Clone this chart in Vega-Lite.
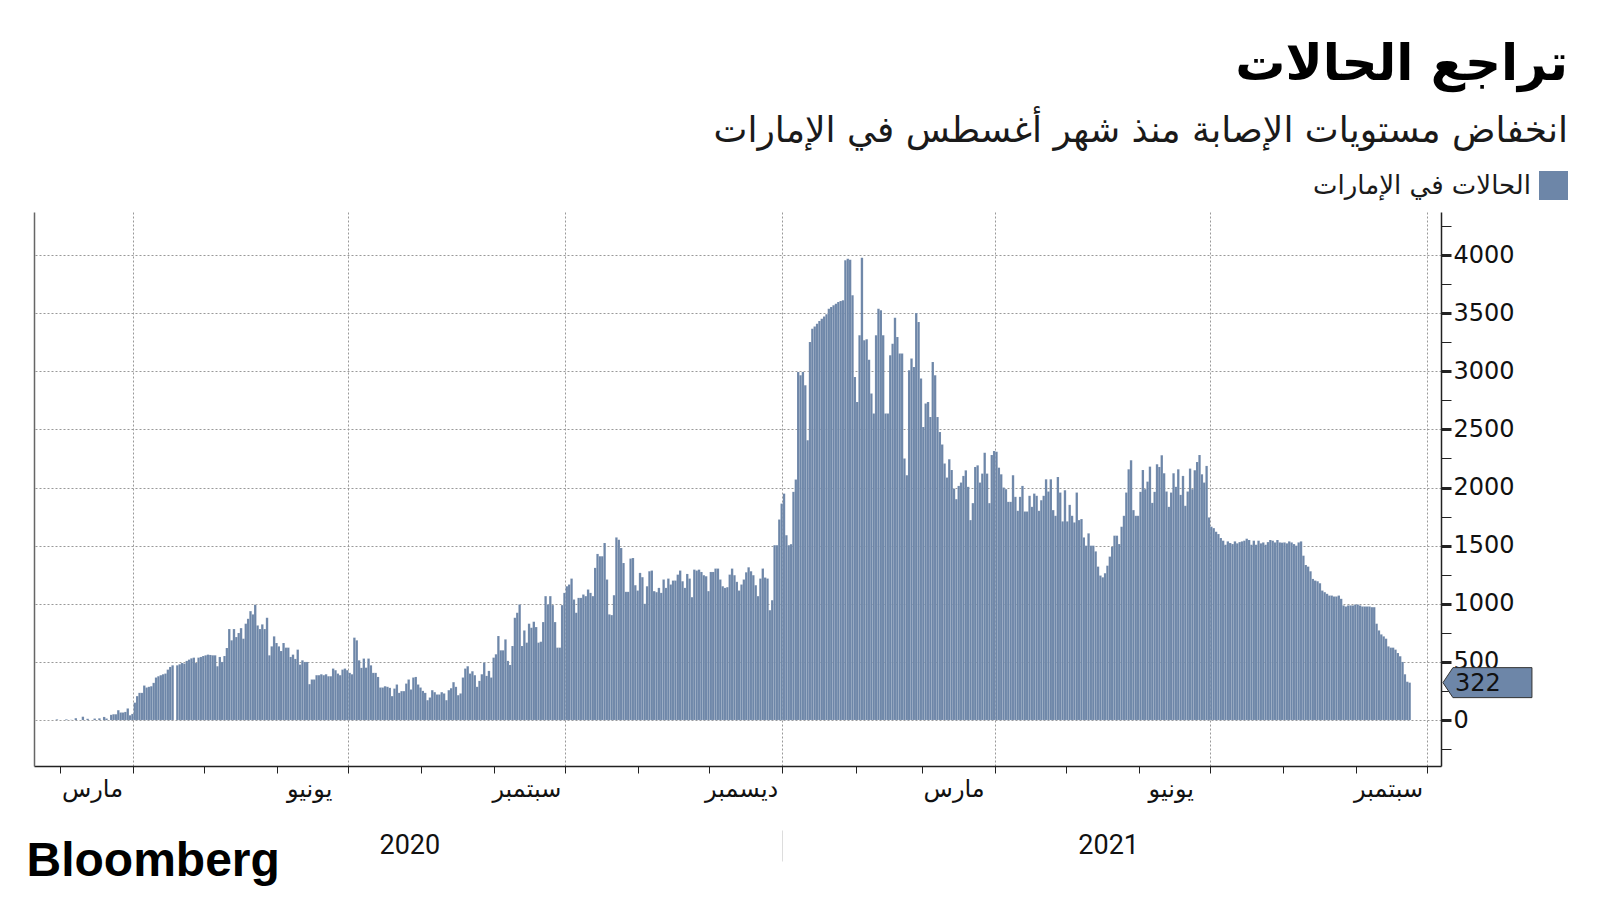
{
  "$schema": "https://vega.github.io/schema/vega-lite/v6.json",
  "width": 1407,
  "height": 554,
  "autosize": {"type": "none"},
  "padding": {"left": 34, "top": 212, "right": 159, "bottom": 134},
  "background": "white",
  "config": {"view": {"stroke": null}, "font": "DejaVu Sans"},
  "title": {
    "text": "تراجع الحالات",
    "subtitle": "انخفاض مستويات الإصابة منذ شهر أغسطس في الإمارات",
    "anchor": "end",
    "frame": "group",
    "orient": "top",
    "dx": 127,
    "offset": 22,
    "font": "DejaVu Sans",
    "fontSize": 50,
    "fontWeight": "bold",
    "color": "black",
    "subtitleFont": "DejaVu Sans",
    "subtitleFontSize": 36,
    "subtitleColor": "#1a1a1a",
    "subtitlePadding": 24
  },
  "datasets": {
    "cases": [
      {"d":"2020-02-19","v":0},{"d":"2020-02-20","v":0},{"d":"2020-02-21","v":0},{"d":"2020-02-22","v":0},{"d":"2020-02-23","v":0},{"d":"2020-02-24","v":0},{"d":"2020-02-25","v":0},{"d":"2020-02-26","v":0},{"d":"2020-02-27","v":0},{"d":"2020-02-28","v":6},{"d":"2020-02-29","v":0},
      {"d":"2020-03-01","v":0},{"d":"2020-03-02","v":0},{"d":"2020-03-03","v":6},{"d":"2020-03-04","v":0},{"d":"2020-03-05","v":2},{"d":"2020-03-06","v":0},{"d":"2020-03-07","v":16},{"d":"2020-03-08","v":0},{"d":"2020-03-09","v":0},{"d":"2020-03-10","v":29},{"d":"2020-03-11","v":0},{"d":"2020-03-12","v":11},{"d":"2020-03-13","v":0},{"d":"2020-03-14","v":0},{"d":"2020-03-15","v":13},{"d":"2020-03-16","v":0},{"d":"2020-03-17","v":15},{"d":"2020-03-18","v":0},{"d":"2020-03-19","v":27},{"d":"2020-03-20","v":13},{"d":"2020-03-21","v":0},{"d":"2020-03-22","v":45},{"d":"2020-03-23","v":50},{"d":"2020-03-24","v":50},{"d":"2020-03-25","v":85},{"d":"2020-03-26","v":65},{"d":"2020-03-27","v":65},{"d":"2020-03-28","v":70},{"d":"2020-03-29","v":100},{"d":"2020-03-30","v":41},{"d":"2020-03-31","v":53},
      {"d":"2020-04-01","v":150},{"d":"2020-04-02","v":206},{"d":"2020-04-03","v":234},{"d":"2020-04-04","v":234},{"d":"2020-04-05","v":297},{"d":"2020-04-06","v":280},{"d":"2020-04-07","v":286},{"d":"2020-04-08","v":291},{"d":"2020-04-09","v":320},{"d":"2020-04-10","v":366},{"d":"2020-04-11","v":377},{"d":"2020-04-12","v":386},{"d":"2020-04-13","v":394},{"d":"2020-04-14","v":400},{"d":"2020-04-15","v":434},{"d":"2020-04-16","v":457},{"d":"2020-04-17","v":471},{"d":"2020-04-18","v":0},{"d":"2020-04-19","v":471},{"d":"2020-04-20","v":480},{"d":"2020-04-21","v":491},{"d":"2020-04-22","v":486},{"d":"2020-04-23","v":509},{"d":"2020-04-24","v":520},{"d":"2020-04-25","v":531},{"d":"2020-04-26","v":537},{"d":"2020-04-27","v":491},{"d":"2020-04-28","v":537},{"d":"2020-04-29","v":543},{"d":"2020-04-30","v":551},
      {"d":"2020-05-01","v":557},{"d":"2020-05-02","v":563},{"d":"2020-05-03","v":560},{"d":"2020-05-04","v":557},{"d":"2020-05-05","v":557},{"d":"2020-05-06","v":463},{"d":"2020-05-07","v":543},{"d":"2020-05-08","v":500},{"d":"2020-05-09","v":551},{"d":"2020-05-10","v":620},{"d":"2020-05-11","v":783},{"d":"2020-05-12","v":686},{"d":"2020-05-13","v":783},{"d":"2020-05-14","v":714},{"d":"2020-05-15","v":749},{"d":"2020-05-16","v":791},{"d":"2020-05-17","v":700},{"d":"2020-05-18","v":829},{"d":"2020-05-19","v":871},{"d":"2020-05-20","v":937},{"d":"2020-05-21","v":909},{"d":"2020-05-22","v":991},{"d":"2020-05-23","v":814},{"d":"2020-05-24","v":783},{"d":"2020-05-25","v":823},{"d":"2020-05-26","v":783},{"d":"2020-05-27","v":880},{"d":"2020-05-28","v":557},{"d":"2020-05-29","v":634},{"d":"2020-05-30","v":720},{"d":"2020-05-31","v":663},
      {"d":"2020-06-01","v":634},{"d":"2020-06-02","v":594},{"d":"2020-06-03","v":663},{"d":"2020-06-04","v":623},{"d":"2020-06-05","v":623},{"d":"2020-06-06","v":543},{"d":"2020-06-07","v":563},{"d":"2020-06-08","v":526},{"d":"2020-06-09","v":606},{"d":"2020-06-10","v":477},{"d":"2020-06-11","v":514},{"d":"2020-06-12","v":500},{"d":"2020-06-13","v":500},{"d":"2020-06-14","v":309},{"d":"2020-06-15","v":349},{"d":"2020-06-16","v":349},{"d":"2020-06-17","v":386},{"d":"2020-06-18","v":386},{"d":"2020-06-19","v":394},{"d":"2020-06-20","v":386},{"d":"2020-06-21","v":394},{"d":"2020-06-22","v":377},{"d":"2020-06-23","v":377},{"d":"2020-06-24","v":443},{"d":"2020-06-25","v":429},{"d":"2020-06-26","v":400},{"d":"2020-06-27","v":386},{"d":"2020-06-28","v":434},{"d":"2020-06-29","v":443},{"d":"2020-06-30","v":429},
      {"d":"2020-07-01","v":406},{"d":"2020-07-02","v":394},{"d":"2020-07-03","v":709},{"d":"2020-07-04","v":686},{"d":"2020-07-05","v":514},{"d":"2020-07-06","v":449},{"d":"2020-07-07","v":529},{"d":"2020-07-08","v":451},{"d":"2020-07-09","v":529},{"d":"2020-07-10","v":471},{"d":"2020-07-11","v":406},{"d":"2020-07-12","v":406},{"d":"2020-07-13","v":371},{"d":"2020-07-14","v":280},{"d":"2020-07-15","v":280},{"d":"2020-07-16","v":291},{"d":"2020-07-17","v":286},{"d":"2020-07-18","v":277},{"d":"2020-07-19","v":206},{"d":"2020-07-20","v":271},{"d":"2020-07-21","v":306},{"d":"2020-07-22","v":234},{"d":"2020-07-23","v":249},{"d":"2020-07-24","v":249},{"d":"2020-07-25","v":314},{"d":"2020-07-26","v":349},{"d":"2020-07-27","v":263},{"d":"2020-07-28","v":366},{"d":"2020-07-29","v":371},{"d":"2020-07-30","v":306},{"d":"2020-07-31","v":280},
      {"d":"2020-08-01","v":251},{"d":"2020-08-02","v":234},{"d":"2020-08-03","v":171},{"d":"2020-08-04","v":194},{"d":"2020-08-05","v":257},{"d":"2020-08-06","v":240},{"d":"2020-08-07","v":220},{"d":"2020-08-08","v":220},{"d":"2020-08-09","v":240},{"d":"2020-08-10","v":229},{"d":"2020-08-11","v":171},{"d":"2020-08-12","v":257},{"d":"2020-08-13","v":274},{"d":"2020-08-14","v":326},{"d":"2020-08-15","v":286},{"d":"2020-08-16","v":214},{"d":"2020-08-17","v":229},{"d":"2020-08-18","v":366},{"d":"2020-08-19","v":443},{"d":"2020-08-20","v":463},{"d":"2020-08-21","v":400},{"d":"2020-08-22","v":420},{"d":"2020-08-23","v":386},{"d":"2020-08-24","v":286},{"d":"2020-08-25","v":337},{"d":"2020-08-26","v":394},{"d":"2020-08-27","v":494},{"d":"2020-08-28","v":380},{"d":"2020-08-29","v":423},{"d":"2020-08-30","v":366},{"d":"2020-08-31","v":537},
      {"d":"2020-09-01","v":566},{"d":"2020-09-02","v":723},{"d":"2020-09-03","v":600},{"d":"2020-09-04","v":600},{"d":"2020-09-05","v":694},{"d":"2020-09-06","v":509},{"d":"2020-09-07","v":474},{"d":"2020-09-08","v":637},{"d":"2020-09-09","v":880},{"d":"2020-09-10","v":923},{"d":"2020-09-11","v":994},{"d":"2020-09-12","v":637},{"d":"2020-09-13","v":771},{"d":"2020-09-14","v":666},{"d":"2020-09-15","v":829},{"d":"2020-09-16","v":794},{"d":"2020-09-17","v":846},{"d":"2020-09-18","v":800},{"d":"2020-09-19","v":666},{"d":"2020-09-20","v":674},{"d":"2020-09-21","v":843},{"d":"2020-09-22","v":1066},{"d":"2020-09-23","v":994},{"d":"2020-09-24","v":1066},{"d":"2020-09-25","v":989},{"d":"2020-09-26","v":843},{"d":"2020-09-27","v":623},{"d":"2020-09-28","v":623},{"d":"2020-09-29","v":989},{"d":"2020-09-30","v":1094},
      {"d":"2020-10-01","v":1151},{"d":"2020-10-02","v":1166},{"d":"2020-10-03","v":1217},{"d":"2020-10-04","v":1037},{"d":"2020-10-05","v":923},{"d":"2020-10-06","v":1051},{"d":"2020-10-07","v":1051},{"d":"2020-10-08","v":1080},{"d":"2020-10-09","v":1066},{"d":"2020-10-10","v":1123},{"d":"2020-10-11","v":1094},{"d":"2020-10-12","v":1066},{"d":"2020-10-13","v":1309},{"d":"2020-10-14","v":1429},{"d":"2020-10-15","v":1409},{"d":"2020-10-16","v":1409},{"d":"2020-10-17","v":1523},{"d":"2020-10-18","v":1209},{"d":"2020-10-19","v":909},{"d":"2020-10-20","v":903},{"d":"2020-10-21","v":1074},{"d":"2020-10-22","v":1571},{"d":"2020-10-23","v":1551},{"d":"2020-10-24","v":1480},{"d":"2020-10-25","v":1351},{"d":"2020-10-26","v":1103},{"d":"2020-10-27","v":1103},{"d":"2020-10-28","v":1389},{"d":"2020-10-29","v":1394},{"d":"2020-10-30","v":1160},{"d":"2020-10-31","v":1114},
      {"d":"2020-11-01","v":1266},{"d":"2020-11-02","v":1229},{"d":"2020-11-03","v":1000},{"d":"2020-11-04","v":1151},{"d":"2020-11-05","v":1280},{"d":"2020-11-06","v":1286},{"d":"2020-11-07","v":1109},{"d":"2020-11-08","v":1100},{"d":"2020-11-09","v":1137},{"d":"2020-11-10","v":1094},{"d":"2020-11-11","v":1209},{"d":"2020-11-12","v":1137},{"d":"2020-11-13","v":1217},{"d":"2020-11-14","v":1166},{"d":"2020-11-15","v":1200},{"d":"2020-11-16","v":1200},{"d":"2020-11-17","v":1251},{"d":"2020-11-18","v":1286},{"d":"2020-11-19","v":1194},{"d":"2020-11-20","v":1137},{"d":"2020-11-21","v":1257},{"d":"2020-11-22","v":1217},{"d":"2020-11-23","v":1057},{"d":"2020-11-24","v":1294},{"d":"2020-11-25","v":1286},{"d":"2020-11-26","v":1294},{"d":"2020-11-27","v":1274},{"d":"2020-11-28","v":1246},{"d":"2020-11-29","v":1237},{"d":"2020-11-30","v":1109},
      {"d":"2020-12-01","v":1274},{"d":"2020-12-02","v":1274},{"d":"2020-12-03","v":1303},{"d":"2020-12-04","v":1303},{"d":"2020-12-05","v":1209},{"d":"2020-12-06","v":1151},{"d":"2020-12-07","v":1137},{"d":"2020-12-08","v":1143},{"d":"2020-12-09","v":1251},{"d":"2020-12-10","v":1303},{"d":"2020-12-11","v":1246},{"d":"2020-12-12","v":1189},{"d":"2020-12-13","v":1114},{"d":"2020-12-14","v":1166},{"d":"2020-12-15","v":1209},{"d":"2020-12-16","v":1271},{"d":"2020-12-17","v":1314},{"d":"2020-12-18","v":1280},{"d":"2020-12-19","v":1246},{"d":"2020-12-20","v":1160},{"d":"2020-12-21","v":1066},{"d":"2020-12-22","v":1217},{"d":"2020-12-23","v":1303},{"d":"2020-12-24","v":1226},{"d":"2020-12-25","v":1217},{"d":"2020-12-26","v":945},{"d":"2020-12-27","v":1031},{"d":"2020-12-28","v":1504},{"d":"2020-12-29","v":1504},{"d":"2020-12-30","v":1725},{"d":"2020-12-31","v":1862},
      {"d":"2021-01-01","v":1948},{"d":"2021-01-02","v":1590},{"d":"2021-01-03","v":1504},{"d":"2021-01-04","v":1513},{"d":"2021-01-05","v":1963},{"d":"2021-01-06","v":2069},{"d":"2021-01-07","v":2994},{"d":"2021-01-08","v":2965},{"d":"2021-01-09","v":2994},{"d":"2021-01-10","v":2879},{"d":"2021-01-11","v":2407},{"d":"2021-01-12","v":3252},{"d":"2021-01-13","v":3366},{"d":"2021-01-14","v":3386},{"d":"2021-01-15","v":3409},{"d":"2021-01-16","v":3432},{"d":"2021-01-17","v":3452},{"d":"2021-01-18","v":3472},{"d":"2021-01-19","v":3490},{"d":"2021-01-20","v":3538},{"d":"2021-01-21","v":3553},{"d":"2021-01-22","v":3567},{"d":"2021-01-23","v":3581},{"d":"2021-01-24","v":3596},{"d":"2021-01-25","v":3604},{"d":"2021-01-26","v":3610},{"d":"2021-01-27","v":3954},{"d":"2021-01-28","v":3968},{"d":"2021-01-29","v":3959},{"d":"2021-01-30","v":3653},{"d":"2021-01-31","v":2951},
      {"d":"2021-02-01","v":2736},{"d":"2021-02-02","v":3309},{"d":"2021-02-03","v":3977},{"d":"2021-02-04","v":3266},{"d":"2021-02-05","v":3275},{"d":"2021-02-06","v":3100},{"d":"2021-02-07","v":2808},{"d":"2021-02-08","v":2636},{"d":"2021-02-09","v":3309},{"d":"2021-02-10","v":3538},{"d":"2021-02-11","v":3524},{"d":"2021-02-12","v":3309},{"d":"2021-02-13","v":2636},{"d":"2021-02-14","v":2636},{"d":"2021-02-15","v":3137},{"d":"2021-02-16","v":3237},{"d":"2021-02-17","v":3461},{"d":"2021-02-18","v":3295},{"d":"2021-02-19","v":3152},{"d":"2021-02-20","v":3152},{"d":"2021-02-21","v":2249},{"d":"2021-02-22","v":2106},{"d":"2021-02-23","v":3008},{"d":"2021-02-24","v":3109},{"d":"2021-02-25","v":3037},{"d":"2021-02-26","v":3501},{"d":"2021-02-27","v":3424},{"d":"2021-02-28","v":2937},
      {"d":"2021-03-01","v":2521},{"d":"2021-03-02","v":2722},{"d":"2021-03-03","v":2736},{"d":"2021-03-04","v":2607},{"d":"2021-03-05","v":3080},{"d":"2021-03-06","v":2965},{"d":"2021-03-07","v":2606},{"d":"2021-03-08","v":2477},{"d":"2021-03-09","v":2371},{"d":"2021-03-10","v":2206},{"d":"2021-03-11","v":2086},{"d":"2021-03-12","v":2243},{"d":"2021-03-13","v":2151},{"d":"2021-03-14","v":1991},{"d":"2021-03-15","v":1900},{"d":"2021-03-16","v":2014},{"d":"2021-03-17","v":2043},{"d":"2021-03-18","v":2100},{"d":"2021-03-19","v":2148},{"d":"2021-03-20","v":2006},{"d":"2021-03-21","v":1720},{"d":"2021-03-22","v":1866},{"d":"2021-03-23","v":2177},{"d":"2021-03-24","v":2191},{"d":"2021-03-25","v":2043},{"d":"2021-03-26","v":2120},{"d":"2021-03-27","v":2300},{"d":"2021-03-28","v":2120},{"d":"2021-03-29","v":1866},{"d":"2021-03-30","v":2280},{"d":"2021-03-31","v":2314},
      {"d":"2021-04-01","v":2308},{"d":"2021-04-02","v":2171},{"d":"2021-04-03","v":2114},{"d":"2021-04-04","v":2000},{"d":"2021-04-05","v":1986},{"d":"2021-04-06","v":1877},{"d":"2021-04-07","v":1877},{"d":"2021-04-08","v":2106},{"d":"2021-04-09","v":1920},{"d":"2021-04-10","v":1800},{"d":"2021-04-11","v":1920},{"d":"2021-04-12","v":2014},{"d":"2021-04-13","v":1794},{"d":"2021-04-14","v":1794},{"d":"2021-04-15","v":1929},{"d":"2021-04-16","v":1834},{"d":"2021-04-17","v":1948},{"d":"2021-04-18","v":1929},{"d":"2021-04-19","v":1800},{"d":"2021-04-20","v":1891},{"d":"2021-04-21","v":1929},{"d":"2021-04-22","v":2071},{"d":"2021-04-23","v":1966},{"d":"2021-04-24","v":2071},{"d":"2021-04-25","v":1806},{"d":"2021-04-26","v":1757},{"d":"2021-04-27","v":2091},{"d":"2021-04-28","v":1957},{"d":"2021-04-29","v":1709},{"d":"2021-04-30","v":1977},
      {"d":"2021-05-01","v":1709},{"d":"2021-05-02","v":1851},{"d":"2021-05-03","v":1757},{"d":"2021-05-04","v":1700},{"d":"2021-05-05","v":1957},{"d":"2021-05-06","v":1720},{"d":"2021-05-07","v":1729},{"d":"2021-05-08","v":1571},{"d":"2021-05-09","v":1500},{"d":"2021-05-10","v":1606},{"d":"2021-05-11","v":1500},{"d":"2021-05-12","v":1500},{"d":"2021-05-13","v":1451},{"d":"2021-05-14","v":1320},{"d":"2021-05-15","v":1243},{"d":"2021-05-16","v":1228},{"d":"2021-05-17","v":1263},{"d":"2021-05-18","v":1328},{"d":"2021-05-19","v":1406},{"d":"2021-05-20","v":1491},{"d":"2021-05-21","v":1586},{"d":"2021-05-22","v":1586},{"d":"2021-05-23","v":1514},{"d":"2021-05-24","v":1663},{"d":"2021-05-25","v":1757},{"d":"2021-05-26","v":1957},{"d":"2021-05-27","v":2157},{"d":"2021-05-28","v":2234},{"d":"2021-05-29","v":1806},{"d":"2021-05-30","v":1757},{"d":"2021-05-31","v":1757},
      {"d":"2021-06-01","v":1963},{"d":"2021-06-02","v":2151},{"d":"2021-06-03","v":1986},{"d":"2021-06-04","v":2051},{"d":"2021-06-05","v":2180},{"d":"2021-06-06","v":1868},{"d":"2021-06-07","v":1963},{"d":"2021-06-08","v":2200},{"d":"2021-06-09","v":2177},{"d":"2021-06-10","v":2277},{"d":"2021-06-11","v":2123},{"d":"2021-06-12","v":1966},{"d":"2021-06-13","v":1834},{"d":"2021-06-14","v":1957},{"d":"2021-06-15","v":2123},{"d":"2021-06-16","v":2006},{"d":"2021-06-17","v":2157},{"d":"2021-06-18","v":1937},{"d":"2021-06-19","v":2100},{"d":"2021-06-20","v":1843},{"d":"2021-06-21","v":1966},{"d":"2021-06-22","v":2163},{"d":"2021-06-23","v":1986},{"d":"2021-06-24","v":2149},{"d":"2021-06-25","v":2220},{"d":"2021-06-26","v":2280},{"d":"2021-06-27","v":2114},{"d":"2021-06-28","v":2043},{"d":"2021-06-29","v":2186},{"d":"2021-06-30","v":1743},
      {"d":"2021-07-01","v":1663},{"d":"2021-07-02","v":1651},{"d":"2021-07-03","v":1620},{"d":"2021-07-04","v":1600},{"d":"2021-07-05","v":1566},{"d":"2021-07-06","v":1543},{"d":"2021-07-07","v":1508},{"d":"2021-07-08","v":1537},{"d":"2021-07-09","v":1523},{"d":"2021-07-10","v":1514},{"d":"2021-07-11","v":1537},{"d":"2021-07-12","v":1520},{"d":"2021-07-13","v":1531},{"d":"2021-07-14","v":1537},{"d":"2021-07-15","v":1543},{"d":"2021-07-16","v":1560},{"d":"2021-07-17","v":1549},{"d":"2021-07-18","v":1508},{"d":"2021-07-19","v":1543},{"d":"2021-07-20","v":1508},{"d":"2021-07-21","v":1543},{"d":"2021-07-22","v":1520},{"d":"2021-07-23","v":1528},{"d":"2021-07-24","v":1508},{"d":"2021-07-25","v":1531},{"d":"2021-07-26","v":1549},{"d":"2021-07-27","v":1543},{"d":"2021-07-28","v":1528},{"d":"2021-07-29","v":1549},{"d":"2021-07-30","v":1528},{"d":"2021-07-31","v":1526},
      {"d":"2021-08-01","v":1528},{"d":"2021-08-02","v":1520},{"d":"2021-08-03","v":1537},{"d":"2021-08-04","v":1528},{"d":"2021-08-05","v":1514},{"d":"2021-08-06","v":1500},{"d":"2021-08-07","v":1528},{"d":"2021-08-08","v":1537},{"d":"2021-08-09","v":1414},{"d":"2021-08-10","v":1334},{"d":"2021-08-11","v":1320},{"d":"2021-08-12","v":1280},{"d":"2021-08-13","v":1214},{"d":"2021-08-14","v":1200},{"d":"2021-08-15","v":1194},{"d":"2021-08-16","v":1177},{"d":"2021-08-17","v":1114},{"d":"2021-08-18","v":1100},{"d":"2021-08-19","v":1086},{"d":"2021-08-20","v":1071},{"d":"2021-08-21","v":1071},{"d":"2021-08-22","v":1063},{"d":"2021-08-23","v":1063},{"d":"2021-08-24","v":1071},{"d":"2021-08-25","v":1043},{"d":"2021-08-26","v":986},{"d":"2021-08-27","v":977},{"d":"2021-08-28","v":986},{"d":"2021-08-29","v":986},{"d":"2021-08-30","v":986},{"d":"2021-08-31","v":994},
      {"d":"2021-09-01","v":994},{"d":"2021-09-02","v":986},{"d":"2021-09-03","v":977},{"d":"2021-09-04","v":977},{"d":"2021-09-05","v":977},{"d":"2021-09-06","v":977},{"d":"2021-09-07","v":971},{"d":"2021-09-08","v":971},{"d":"2021-09-09","v":829},{"d":"2021-09-10","v":771},{"d":"2021-09-11","v":737},{"d":"2021-09-12","v":720},{"d":"2021-09-13","v":700},{"d":"2021-09-14","v":634},{"d":"2021-09-15","v":623},{"d":"2021-09-16","v":623},{"d":"2021-09-17","v":606},{"d":"2021-09-18","v":577},{"d":"2021-09-19","v":549},{"d":"2021-09-20","v":500},{"d":"2021-09-21","v":394},{"d":"2021-09-22","v":330},{"d":"2021-09-23","v":322}
    ]
  },
  "data": {"name": "cases"},
  "layer": [
    {
      "mark": {"type": "bar", "color": "#6D86A8", "binSpacing": 0, "stroke": "#ffffff", "strokeWidth": 0.3, "strokeOpacity": 0.3},
      "encoding": {
        "x": {
          "field": "d", "type": "temporal", "timeUnit": "utcyearmonthdate",
          "scale": {"type": "utc", "domain": [{"year": 2020, "month": 2, "date": 19, "utc": true}, {"year": 2021, "month": 10, "date": 7, "utc": true}]},
          "axis": {
            "title": null,
            "values": [
              {"year": 2020, "month": 3, "date": 1, "utc": true}, {"year": 2020, "month": 4, "date": 1, "utc": true}, {"year": 2020, "month": 5, "date": 1, "utc": true}, {"year": 2020, "month": 6, "date": 1, "utc": true}, {"year": 2020, "month": 7, "date": 1, "utc": true}, {"year": 2020, "month": 8, "date": 1, "utc": true}, {"year": 2020, "month": 9, "date": 1, "utc": true}, {"year": 2020, "month": 10, "date": 1, "utc": true}, {"year": 2020, "month": 11, "date": 1, "utc": true}, {"year": 2020, "month": 12, "date": 1, "utc": true},
              {"year": 2021, "month": 1, "date": 1, "utc": true}, {"year": 2021, "month": 2, "date": 1, "utc": true}, {"year": 2021, "month": 3, "date": 1, "utc": true}, {"year": 2021, "month": 4, "date": 1, "utc": true}, {"year": 2021, "month": 5, "date": 1, "utc": true}, {"year": 2021, "month": 6, "date": 1, "utc": true}, {"year": 2021, "month": 7, "date": 1, "utc": true}, {"year": 2021, "month": 8, "date": 1, "utc": true}, {"year": 2021, "month": 9, "date": 1, "utc": true}, {"year": 2021, "month": 10, "date": 1, "utc": true}
            ],
            "labelExpr": "utcmonth(datum.value) == 2 ? 'مارس' : utcmonth(datum.value) == 5 ? 'يونيو' : utcmonth(datum.value) == 8 ? 'سبتمبر' : utcmonth(datum.value) == 11 ? 'ديسمبر' : ''",
            "labelOffset": 32,
            "labelFont": "DejaVu Sans",
            "labelFontSize": 24,
            "labelColor": "#111",
            "labelPadding": 4,
            "labelOverlap": false,
            "labelBound": false,
            "labelFlush": false,
            "domain": true, "domainColor": "#222", "domainWidth": 1.5,
            "ticks": true, "tickColor": "#222", "tickSize": 7, "tickWidth": 1,
            "grid": true, "gridColor": "#999", "gridDash": [2, 2], "gridWidth": 1,
            "gridOpacity": {"condition": {"test": "utcmonth(datum.value) % 3 === 0", "value": 1}, "value": 0}
          }
        },
        "y": {
          "field": "v", "type": "quantitative",
          "scale": {"domain": [-395, 4370], "nice": false, "zero": false},
          "axis": {
            "orient": "right",
            "title": null,
            "values": [-250, 0, 250, 500, 750, 1000, 1250, 1500, 1750, 2000, 2250, 2500, 2750, 3000, 3250, 3500, 3750, 4000, 4250],
            "labelExpr": "datum.value % 500 === 0 && datum.value >= 0 ? '' + datum.value : ''",
            "labelFont": "DejaVu Sans",
            "labelFontSize": 24,
            "labelColor": "#111",
            "labelPadding": 2,
            "labelOverlap": false,
            "labelBound": false,
            "labelFlush": false,
            "domain": true, "domainColor": "#222", "domainWidth": 1.5,
            "ticks": true, "tickColor": "#222",
            "tickSize": 10,
            "tickWidth": {"condition": {"test": "datum.value % 500 === 0 && datum.value >= 0 && datum.value <= 4000", "value": 3}, "value": 1},
            "grid": true, "gridColor": "#999", "gridDash": [2, 2], "gridWidth": 1,
            "gridOpacity": {"condition": {"test": "datum.value % 500 === 0 && datum.value >= 0 && datum.value <= 4000", "value": 1}, "value": 0}
          }
        },
        "color": {
          "datum": "الحالات في الإمارات",
          "scale": {"range": ["#6D86A8"]},
          "legend": {
            "orient": "none", "legendX": 1505, "legendY": -41, "title": null, "padding": 0,
            "symbolType": "square", "symbolSize": 841, "symbolStrokeWidth": 0,
            "labelFont": "DejaVu Sans", "labelFontSize": 26, "labelColor": "#1a1a1a",
            "labelAlign": "right", "labelOffset": -37, "labelLimit": 400
          }
        }
      }
    },
    {
      "transform": [{"filter": {"field": "d", "timeUnit": "utcyearmonthdate", "equal": {"year": 2021, "month": 9, "date": 23, "utc": true}}}],
      "mark": {"type": "point", "shape": "M35,0L45,-15L124,-15L124,15L45,15Z", "size": 4, "filled": true, "fill": "#6D86A8", "stroke": "#333", "strokeWidth": 1, "opacity": 1, "clip": false},
      "encoding": {
        "x": {
          "field": "d", "type": "temporal", "timeUnit": "utcyearmonthdate",
          "axis": {
            "orient": "bottom", "offset": 64, "title": "Bloomberg",
            "titleFont": "Liberation Sans", "titleFontWeight": "bold", "titleFontSize": 48, "titleColor": "black",
            "titleX": -8, "titleY": 45, "titleAnchor": "start", "titleAlign": "left", "titleBaseline": "alphabetic",
            "values": [{"year": 2020, "month": 7, "date": 27, "utc": true}, {"year": 2021, "month": 1, "date": 1, "utc": true}, {"year": 2021, "month": 5, "date": 19, "utc": true}],
            "labelExpr": "utcmonth(datum.value) === 0 ? '' : '' + utcyear(datum.value)",
            "labelFont": "Roboto", "labelFontSize": 27, "labelColor": "#111",
            "labelBaseline": "middle", "labelPadding": -16, "labelOverlap": false, "labelBound": false, "labelFlush": false,
            "domain": false, "grid": false,
            "ticks": true, "tickColor": "#dddddd", "tickSize": 31, "tickWidth": 1,
            "tickOpacity": {"condition": {"test": "utcmonth(datum.value) === 0", "value": 1}, "value": 0}
          }
        },
        "y": {
          "field": "v", "type": "quantitative",
          "axis": {"orient": "left", "title": null, "labels": false, "ticks": false, "grid": false, "domain": true, "domainColor": "#666", "domainWidth": 1.5}
        }
      }
    },
    {
      "transform": [{"filter": {"field": "d", "timeUnit": "utcyearmonthdate", "equal": {"year": 2021, "month": 9, "date": 23, "utc": true}}}],
      "mark": {"type": "text", "align": "left", "baseline": "middle", "dx": 47, "dy": 1, "font": "DejaVu Sans", "fontSize": 24, "color": "#111", "clip": false},
      "encoding": {
        "x": {"field": "d", "type": "temporal", "timeUnit": "utcyearmonthdate", "axis": null},
        "y": {"field": "v", "type": "quantitative", "axis": null},
        "text": {"field": "v", "type": "quantitative", "format": "d"}
      }
    }
  ],
  "resolve": {"axis": {"x": "independent", "y": "independent"}}
}
